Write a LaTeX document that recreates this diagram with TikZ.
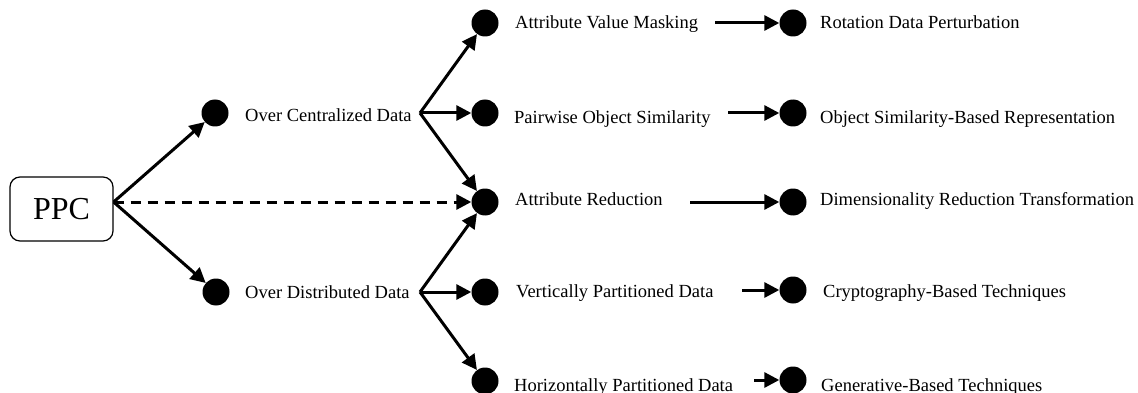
\documentclass[tikz,border=0pt]{standalone}
\usepackage{fontspec}
\setmainfont{Liberation Serif}
\usetikzlibrary{arrows.meta}

\tikzset{
  dot/.style={circle,fill=black,inner sep=0pt,minimum size=27pt},
  lbl/.style={anchor=base west,inner sep=0pt,font=\fontsize{18.5}{20}\selectfont},
  arr/.style={line width=3pt,-{Triangle[length=15pt,width=15pt]}},
  rootbox/.style={draw,line width=1.2pt,rounded corners=10pt,
    minimum width=103pt,minimum height=64pt,inner sep=0pt,
    font=\fontsize{32}{34}\selectfont},
}

\begin{document}
\begin{tikzpicture}[x=1pt,y=-1pt]

\clip (0,0) rectangle (1138,393);

% Racine
\node[rootbox] (ppc) at (61.5,209) {PPC};

% Premier niveau
\node[dot] (cent) at (215,113) {};
\node[dot] (dist) at (216,292) {};
\node[lbl] (centtxt) at (245,122) {Over Centralized Data};
\node[lbl] (disttxt) at (245,298) {Over Distributed Data};
\coordinate (centfork) at (420,113);
\coordinate (distfork) at (420,292);

% Deuxieme niveau
\node[dot] (avm) at (485,23) {};
\node[dot] (pos) at (485,113) {};
\node[dot] (ared) at (485,202) {};
\node[dot] (vpd) at (485,292) {};
\node[dot] (hpd) at (485,381) {};

\node[lbl] (avmtxt) at (515,29) {Attribute Value Masking};
\node[lbl] (postxt) at (514,124) {Pairwise Object Similarity};
\node[lbl] (aredtxt) at (515,205) {Attribute Reduction};
\node[lbl] (vpdtxt) at (516,297) {Vertically Partitioned Data};
\node[lbl] (hpdtxt) at (514,391) {Horizontally Partitioned Data};

% Troisieme niveau
\node[dot] (rdp) at (793,23) {};
\node[dot] (osbr) at (793,113) {};
\node[dot] (drt) at (793,202) {};
\node[dot] (cbt) at (793,290) {};
\node[dot] (gbt) at (793,380) {};

\node[lbl] (rdptxt) at (820,29) {Rotation Data Perturbation};
\node[lbl] (osbrtxt) at (820,124) {Object Similarity-Based Representation};
\node[lbl] (drttxt) at (820,205) {Dimensionality Reduction Transformation};
\node[lbl] (cbttxt) at (823,297) {Cryptography-Based Techniques};
\node[lbl] (gbttxt) at (821,391) {Generative-Based Techniques};

\coordinate (avmout) at (715,23);
\coordinate (posout) at (728,113);
\coordinate (aredout) at (690,202);
\coordinate (vpdout) at (742,290);
\coordinate (hpdout) at (754,380);

% Fleches
\draw[arr]
([yshift=7pt]ppc.east)
--
(cent);

\draw[arr]
([yshift=7pt]ppc.east)
--
(dist);

\draw[arr,dash pattern=on 10pt off 7pt]
([yshift=7pt]ppc.east)
--
(ared);

\draw[arr] (centfork) -- (avm);
\draw[arr] (centfork) -- (pos);
\draw[arr] (centfork) -- (ared);

\draw[arr] (distfork) -- (ared);
\draw[arr] (distfork) -- (vpd);
\draw[arr] (distfork) -- (hpd);

\draw[arr] (avmout) -- (rdp);
\draw[arr] (posout) -- (osbr);
\draw[arr] (aredout) -- (drt);
\draw[arr] (vpdout) -- (cbt);
\draw[arr] (hpdout) -- (gbt);

\end{tikzpicture}
\end{document}
